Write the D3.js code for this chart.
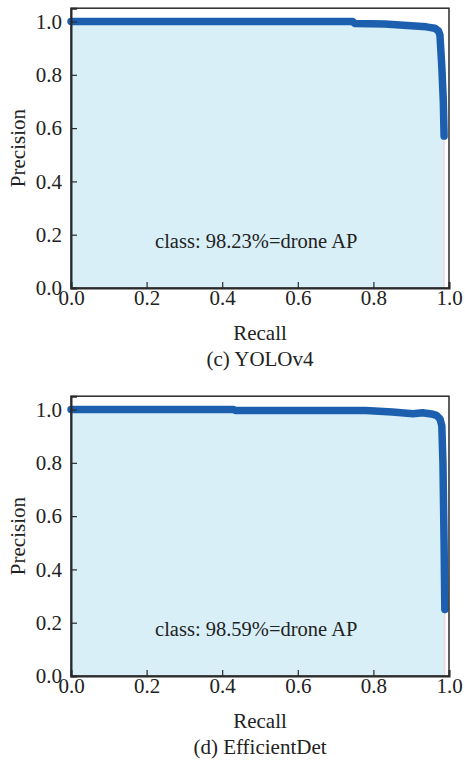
<!DOCTYPE html>
<html>
<head>
<meta charset="utf-8">
<script src="https://cdn.jsdelivr.net/npm/d3@7"></script>
<style>
  body { margin: 0; background: #fff; }
  text { font-family: "Liberation Serif", "Times New Roman", serif; fill: #222; }
</style>
</head>
<body>
<div class="visual-data"></div>
<script>
const width = 465;
const height = 764;

// PR curve (c) YOLOv4
const recallC    = [0, 0.30, 0.60, 0.745, 0.75, 0.83, 0.87, 0.94, 0.962, 0.972, 0.976, 0.981, 0.985, 0.987];
const precisionC = [1.0, 1.0, 1.0, 1.0, 0.993, 0.991, 0.987, 0.98, 0.975, 0.965, 0.95, 0.83, 0.70, 0.57];
// PR curve (d) EfficientDet
const recallD    = [0, 0.20, 0.43, 0.435, 0.60, 0.78, 0.85, 0.905, 0.93, 0.958, 0.967, 0.976, 0.981, 0.984, 0.987, 0.989];
const precisionD = [1.0, 1.0, 1.0, 0.996, 0.996, 0.996, 0.991, 0.984, 0.988, 0.982, 0.978, 0.965, 0.94, 0.80, 0.50, 0.25];

const tickVals = [0, 0.2, 0.4, 0.6, 0.8, 1.0];
const apLabels = ["class: 98.23%=drone AP", "class: 98.59%=drone AP"];
const captions = ["(c) YOLOv4", "(d) EfficientDet"];

var svgContainer = d3.select(".visual-data")
                     .append("svg")
                     .attr("width", width)
                     .attr("height", height)
                     .style("background-color", "#FFFFFF");

const xScale = d3.scaleLinear().domain([0, 1]).range([71, 449]);

function drawPanel(recall, precision, bottom, apText, caption) {
  const yScale = d3.scaleLinear().domain([0, 1.05]).range([bottom, bottom - 279.8]);
  const g = svgContainer.append("g");
  const pts = recall.map((r, i) => [r, precision[i]]);
  const lastR = recall[recall.length - 1];

  //fill under the curve
  const area = d3.area()
                 .x(d => xScale(d[0]))
                 .y0(yScale(0))
                 .y1(d => yScale(d[1]));
  g.append("path")
   .datum(pts)
   .attr("d", area)
   .attr("fill", "#d9eff8");
  //faint red edge of the fill
  g.append("line")
   .attr("x1", xScale(lastR)).attr("x2", xScale(lastR))
   .attr("y1", yScale(0)).attr("y2", yScale(precision[precision.length - 1]))
   .attr("stroke", "#f2cfd8")
   .attr("stroke-width", 1.2);

  //curve
  const line = d3.line().x(d => xScale(d[0])).y(d => yScale(d[1])).curve(d3.curveMonotoneX);
  g.append("path")
   .datum(pts)
   .attr("d", d3.line().x(d => xScale(d[0])).y(d => yScale(d[1])))
   .attr("fill", "none")
   .attr("stroke", "#1c5fae")
   .attr("stroke-width", 7.5)
   .attr("stroke-linecap", "round")
   .attr("stroke-linejoin", "round");

  //frame
  g.append("rect")
   .attr("x", xScale(0)).attr("y", yScale(1.05))
   .attr("width", xScale(1) - xScale(0))
   .attr("height", yScale(0) - yScale(1.05))
   .attr("fill", "none")
   .attr("stroke", "#2a2a2a")
   .attr("stroke-width", 1.5);

  //axes, ticks pointing inward
  const xAxis = d3.axisBottom(xScale).tickValues(tickVals).tickFormat(d3.format(".1f"))
                  .tickSize(-6).tickPadding(2);
  const yAxis = d3.axisLeft(yScale).tickValues(tickVals).tickFormat(d3.format(".1f"))
                  .tickSize(-6).tickPadding(9);
  const gx = g.append("g").attr("transform", "translate(0," + yScale(0) + ")").call(xAxis);
  const gy = g.append("g").attr("transform", "translate(" + xScale(0) + ",0)").call(yAxis);
  [gx, gy].forEach(a => {
    a.select(".domain").attr("stroke", "#2a2a2a").attr("stroke-width", 2);
    a.selectAll(".tick line").attr("stroke", "#2a2a2a").attr("stroke-width", 1.2);
    a.selectAll(".tick text").attr("font-size", 21).attr("fill", "#222")
     .style("font-family", "'Liberation Serif', serif");
  });

  //AP text
  g.append("text")
   .attr("x", xScale(0.49))
   .attr("y", yScale(0.15))
   .attr("text-anchor", "middle")
   .attr("font-size", 20.5)
   .text(apText);

  //axis titles
  g.append("text")
   .attr("x", xScale(0.5))
   .attr("y", bottom + 52)
   .attr("text-anchor", "middle")
   .attr("font-size", 21)
   .text("Recall");
  g.append("text")
   .attr("transform", "translate(25," + ((bottom + yScale(1.05)) / 2) + ") rotate(-90)")
   .attr("text-anchor", "middle")
   .attr("font-size", 21)
   .text("Precision");
  //caption
  g.append("text")
   .attr("x", xScale(0.5))
   .attr("y", bottom + 78)
   .attr("text-anchor", "middle")
   .attr("font-size", 21)
   .text(caption);
}

drawPanel(recallC, precisionC, 288, apLabels[0], captions[0]);
drawPanel(recallD, precisionD, 676, apLabels[1], captions[1]);
</script>
</body>
</html>
